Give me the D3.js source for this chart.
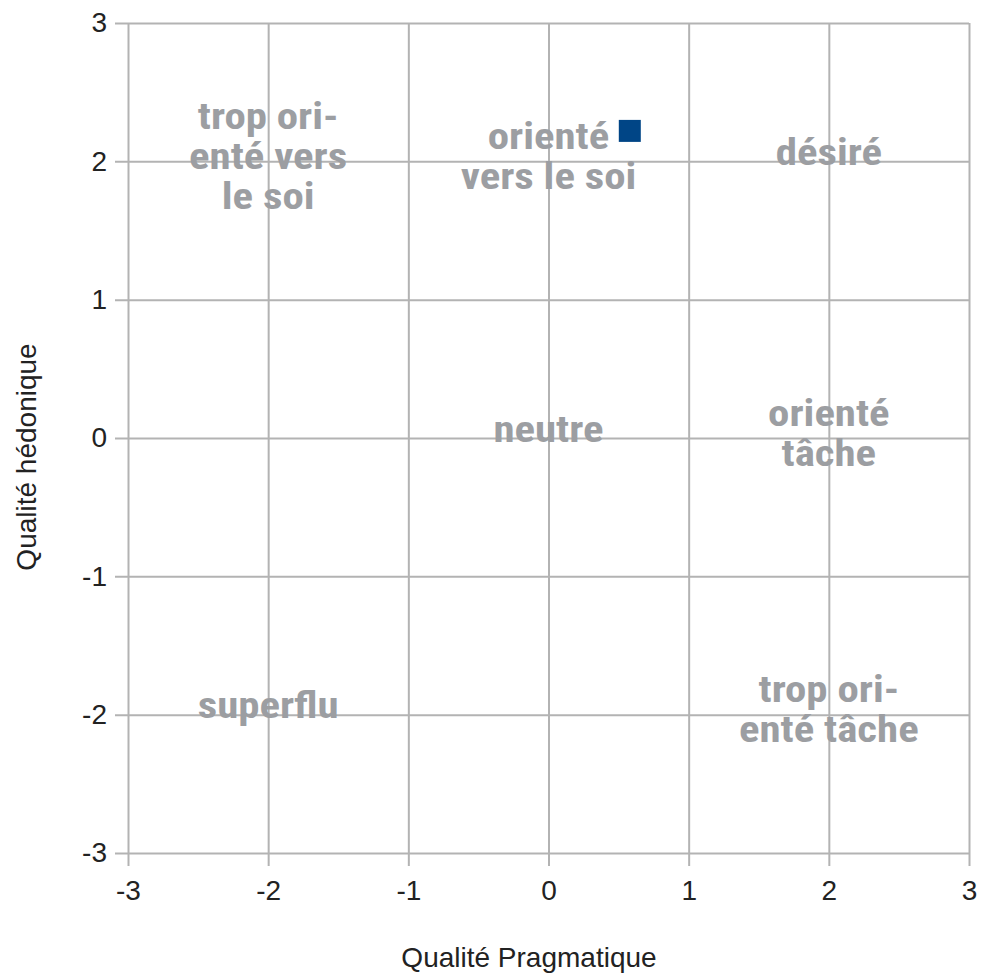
<!DOCTYPE html>
<html><head><meta charset="utf-8">
<script src="https://cdn.jsdelivr.net/npm/d3@7"></script>
<style>
html,body{margin:0;padding:0;background:#fff;}
</style></head>
<body>
<svg id="chart" width="989" height="976"></svg>
<script>
// Data
const xTicks = [-3, -2, -1, 0, 1, 2, 3];
const yTicks = [-3, -2, -1, 0, 1, 2, 3];
const pointX = [0.58];
const pointY = [2.22];
const labelTexts = ["trop ori-\nenté vers\nle soi", "orienté\nvers le soi", "désiré", "neutre", "orienté\ntâche", "superflu", "trop ori-\nenté tâche"];
const labelX = [-2, 0, 2, 0, 2, -2, 2];
const labelY = [2, 2, 2, 0, 0, -2, -2];
const xTitle = "Qualité Pragmatique";
const yTitle = "Qualité hédonique";

const W = 989, H = 976;
const m = {left: 128, right: 20, top: 23, bottom: 123};
const svg = d3.select("#chart");
const x = d3.scaleLinear().domain([-3, 3]).range([m.left, W - m.right]);
const y = d3.scaleLinear().domain([-3, 3]).range([H - m.bottom, m.top]);
const gridColor = "#b3b3b3";
const fmt = d => d < 0 ? "-" + Math.abs(d) : d;
const tickFont = "'Liberation Sans', Arial, sans-serif";

// grid + ticks via axes
const gx = svg.append("g").attr("transform", `translate(0,${m.top})`)
  .call(d3.axisBottom(x).tickValues(xTicks).tickSize(H - m.bottom - m.top + 13).tickFormat(fmt).tickPadding(14));
gx.select(".domain").remove();
gx.attr("font-size", 28).attr("font-family", tickFont);
gx.selectAll("line").attr("stroke", gridColor).attr("stroke-width", 2);
gx.selectAll("text").style("font-size", "28px").attr("fill", "#222");

const gy = svg.append("g").attr("transform", `translate(${W - m.right},0)`)
  .call(d3.axisLeft(y).tickValues(yTicks).tickSize(W - m.right - m.left + 13).tickFormat(fmt).tickPadding(8));
gy.select(".domain").remove();
gy.attr("font-size", 28).attr("font-family", tickFont);
gy.selectAll("line").attr("stroke", gridColor).attr("stroke-width", 2);
gy.selectAll("text").style("font-size", "28px").attr("fill", "#222");

// quadrant labels
const lh = 40, sx = 1.19;
labelTexts.forEach((t, i) => {
  const lines = t.split("\n");
  const n = lines.length;
  const cx = x(labelX[i]);
  const cy = y(labelY[i]) - (n === 1 ? 9 : 5);
  const txt = svg.append("text")
    .attr("transform", `translate(${cx},0) scale(${sx},1)`)
    .attr("text-anchor", "middle")
    .attr("font-family", "'Roboto Condensed', 'Liberation Sans Narrow', 'Arial Narrow', sans-serif")
    .attr("font-stretch", "condensed")
    .attr("font-weight", "bold")
    .attr("font-size", 36)
    .attr("fill", "#9c9ea2");
  lines.forEach((l, j) => {
    txt.append("tspan").attr("x", 0)
      .attr("y", cy + (j - (n - 1) / 2) * lh)
      .attr("dy", "0.35em")
      .text(l);
  });
});

// point
const s = 22;
svg.selectAll("rect.pt").data(pointX).join("rect").attr("class", "pt")
  .attr("x", (d, i) => x(d) - s / 2)
  .attr("y", (d, i) => y(pointY[i]) - s / 2)
  .attr("width", s).attr("height", s)
  .attr("fill", "#004586");

// axis titles
svg.append("text").attr("x", 529).attr("y", 967)
  .attr("text-anchor", "middle").attr("font-family", tickFont)
  .attr("font-size", 28).attr("fill", "#222").text(xTitle);
svg.append("text").attr("transform", `translate(36,457) rotate(-90)`)
  .attr("text-anchor", "middle").attr("font-family", tickFont)
  .attr("font-size", 28).attr("fill", "#222").text(yTitle);
</script>
</body></html>
